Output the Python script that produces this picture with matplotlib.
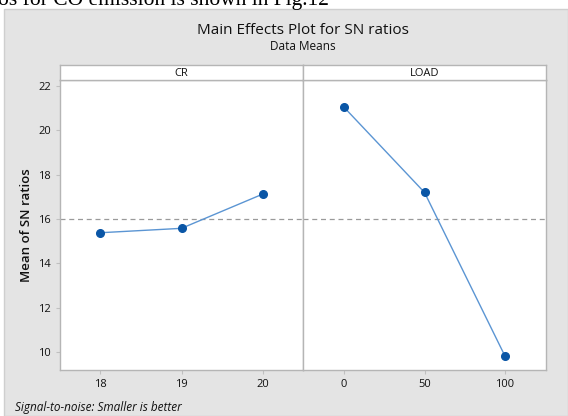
import numpy as np
import matplotlib.pyplot as plt
from matplotlib.patches import Rectangle

# factor levels and mean SN ratios
cr_levels = [18, 19, 20]
cr_means = [15.38, 15.58, 17.13]
load_levels = [0, 50, 100]
load_means = [21.04, 17.20, 9.82]
grand_mean = 16.0

yticks = [10, 12, 14, 16, 18, 20, 22]

W, H = 568, 416
fig = plt.figure(figsize=(W / 100, H / 100), dpi=100)
plt.rcParams['font.family'] = ['Open Sans', 'DejaVu Sans']

def fx(px):
    return px / W

def fy(py):
    return 1 - py / H

# grey background panel
fig.patches.append(Rectangle((fx(4), 0), 1 - fx(4), fy(9), transform=fig.transFigure,
                             facecolor='#e4e4e4', edgecolor='#cfcfcf', lw=1, zorder=-5))

# leftover line of the page text above the chart
fig.text(fx(-2), fy(5), 'os for CO emission is shown in Fig.12', family='Liberation Serif',
         fontsize=15.5, ha='left', va='baseline', color='black')

fig.text(fx(303), fy(30), 'Main Effects Plot for SN ratios', ha='center', va='center',
         fontsize=11, color='#111111')
fig.text(fx(303), fy(47), 'Data Means', ha='center', va='center', fontsize=8.5, color='#111111')

left, mid, right = 60, 303, 546
top, bottom, strip_top = 80, 370, 65

line_col = '#5b95d3'
mark_col = '#0a56a6'
spine_col = '#b5b5b5'

panels = [
    ('CR', cr_levels, cr_means, (17.51, 20.49), left, mid),
    ('LOAD', load_levels, load_means, (-25.5, 125.5), mid, right),
]

for i, (name, lv, mv, xl, x0, x1) in enumerate(panels):
    ax = fig.add_axes([fx(x0), fy(bottom), fx(x1) - fx(x0), fy(top) - fy(bottom)])
    ax.plot(lv, mv, '-', color=line_col, lw=1.0, zorder=2)
    ax.plot(lv, mv, 'o', color=mark_col, ms=5.5, zorder=3)
    ax.axhline(grand_mean, color='#9a9a9a', ls=(0, (4, 3)), lw=0.9, zorder=1)
    ax.set_xlim(*xl)
    ax.set_ylim(9.19, 22.27)
    ax.set_xticks(lv)
    ax.set_xticklabels([str(v) for v in lv])
    ax.set_yticks(yticks)
    for s in ax.spines.values():
        s.set_color(spine_col)
        s.set_linewidth(1)
    ax.tick_params(colors='#c0c0c0', labelcolor='#111111', labelsize=8, length=3, width=0.8)
    if i == 0:
        ax.set_ylabel('Mean of SN ratios', fontsize=9.5, fontweight='semibold', color='#111111',
                      labelpad=4)
    else:
        ax.tick_params(axis='y', left=False, labelleft=False)

    sax = fig.add_axes([fx(x0), fy(top), fx(x1) - fx(x0), fy(strip_top) - fy(top)])
    sax.set_xticks([])
    sax.set_yticks([])
    sax.set_facecolor('white')
    for s in sax.spines.values():
        s.set_color(spine_col)
        s.set_linewidth(1)
    sax.text(0.5, 0.45, name, ha='center', va='center', fontsize=8, color='#111111',
             transform=sax.transAxes)

fig.text(fx(15), fy(408), 'Signal-to-noise: Smaller is better', ha='left', va='center',
         fontsize=8.5, style='italic', color='#111111')

fig.savefig('out.png', dpi=100)
